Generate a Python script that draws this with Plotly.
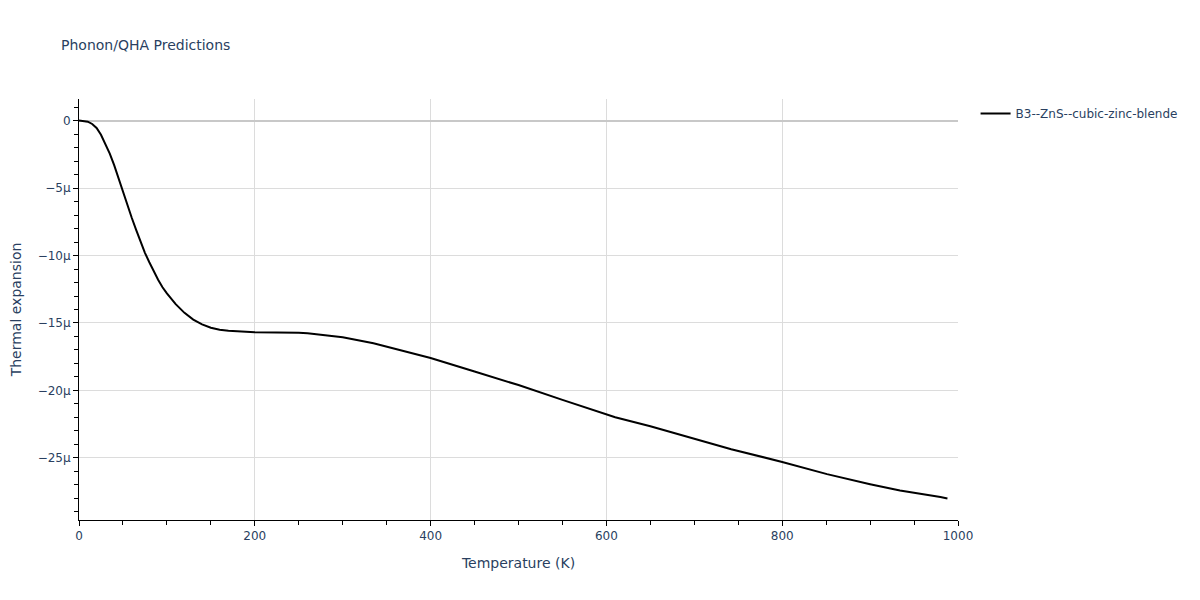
import plotly.graph_objects as go

temperature = [0, 5, 10, 15, 20, 25, 30, 35, 40, 45, 50, 55, 60, 65, 70, 75, 80, 85, 90, 95, 100,
               110, 120, 130, 140, 150, 160, 170, 185, 200, 250, 260, 280, 300, 335, 400, 450, 500,
               550, 600, 610, 650, 700, 728, 742, 800, 838, 851, 900, 920, 934, 980, 988]
thermal_expansion_micro = [0, -0.02, -0.08, -0.25, -0.55, -1.05, -1.7, -2.45, -3.3, -4.3, -5.3,
                           -6.25, -7.2, -8.1, -9.0, -9.8, -10.5, -11.2, -11.8, -12.35, -12.8,
                           -13.6, -14.25, -14.75, -15.1, -15.35, -15.5, -15.58, -15.65, -15.68,
                           -15.72, -15.76, -15.9, -16.05, -16.5, -17.6, -18.6, -19.6, -20.7,
                           -21.75, -21.98, -22.65, -23.55, -24.05, -24.35, -25.3, -26.0, -26.2,
                           -26.95, -27.25, -27.42, -27.9, -28.0]
series_name = "B3--ZnS--cubic-zinc-blende"

thermal_expansion = [v * 1e-6 for v in thermal_expansion_micro]

fig = go.Figure()
fig.add_trace(go.Scatter(x=temperature, y=thermal_expansion, mode="lines",
                         name=series_name, line=dict(color="black", width=2)))

grid = "#dcdcdc"
fig.update_layout(
    width=1200, height=600,
    paper_bgcolor="white", plot_bgcolor="white",
    font=dict(family="DejaVu Sans", size=12, color="#2a3f5f"),
    title=dict(text="Phonon/QHA Predictions", x=53 / 1200, y=1 - 37 / 600,
               xanchor="left", yanchor="middle", font=dict(size=14)),
    margin=dict(l=71, r=250, t=91, b=88),
    showlegend=True,
    legend=dict(x=1.02, y=1.0, xanchor="left", yanchor="top"),
    xaxis=dict(title=dict(text="Temperature (K)"), range=[0, 1000], automargin=False,
               showline=True, linecolor="black", linewidth=1,
               ticks="outside", tickcolor="black", dtick=200,
               minor=dict(ticks="outside", dtick=50, tickcolor="black", ticklen=4, showgrid=False),
               zeroline=False, showgrid=True, gridcolor=grid),
    yaxis=dict(title=dict(text="Thermal expansion"), range=[-29.6e-6, 1.6e-6], automargin=False,
               showline=True, linecolor="black", linewidth=1,
               ticks="outside", tickcolor="black", dtick=5e-6, exponentformat="SI",
               minor=dict(ticks="outside", dtick=1e-6, tickcolor="black", ticklen=4, showgrid=False),
               zeroline=True, zerolinecolor="#c8c8c8", zerolinewidth=2,
               showgrid=True, gridcolor=grid),
)

fig.write_html("out.html")
